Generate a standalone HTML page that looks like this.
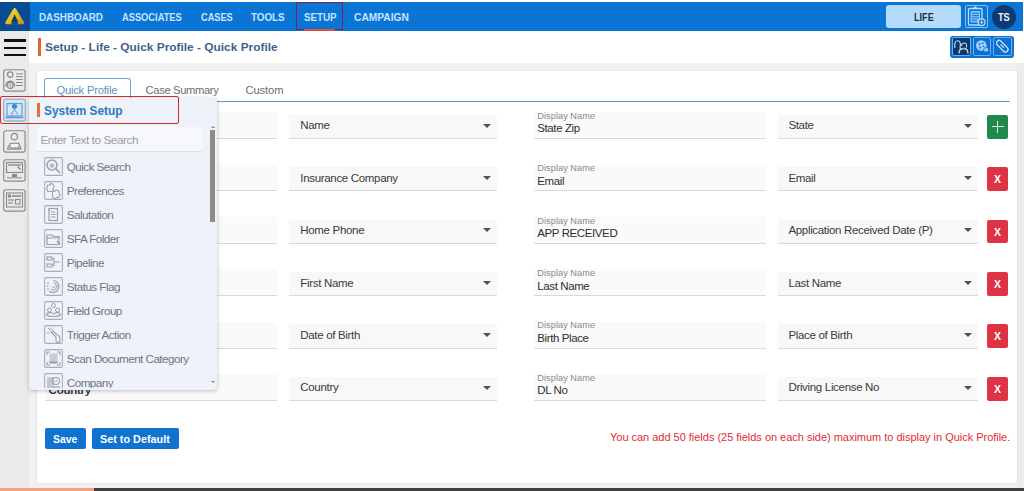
<!DOCTYPE html>
<html><head><meta charset="utf-8">
<style>
*{box-sizing:border-box;margin:0;padding:0}
html,body{width:1024px;height:491px;overflow:hidden;background:#fff;font-family:"Liberation Sans",sans-serif}
.a{position:absolute}
.t{position:absolute;white-space:nowrap;line-height:1}
</style></head><body>
<div class="a" style="left:29px;top:31px;width:995px;height:457px;background:#f1f1f1"></div>
<div class="a" style="left:29px;top:31px;width:995px;height:32px;background:#fff"></div>
<div class="a" style="left:1017px;top:63px;width:7px;height:425px;background:#ececec"></div>
<div class="a" style="left:37px;top:70.5px;width:979.8px;height:412.7px;background:#fff;border-radius:3px;box-shadow:0 0 1.5px rgba(0,0,0,.18)"></div>
<div class="a" style="left:0px;top:31px;width:29px;height:457px;background:#eaeaea"></div>
<div class="a" style="left:0px;top:487.5px;width:94px;height:3.5px;background:#f3a183"></div>
<div class="a" style="left:94px;top:487.5px;width:930px;height:3.5px;background:#404040"></div>
<div class="a" style="left:0px;top:1.8px;width:1023px;height:29.2px;background:#0b75d6"></div>
<div class="a" style="left:0px;top:1.8px;width:30px;height:29.2px;background:#0a4c92"></div>
<svg class="a" style="left:0px;top:0px;" width="30" height="32" viewBox="0 0 30 32"><defs><linearGradient id="lg" x1="0" y1="0" x2="1" y2="1"><stop offset="0" stop-color="#f4d63c"/><stop offset="0.55" stop-color="#e4bb1e"/><stop offset="1" stop-color="#cf8c1c"/></linearGradient></defs><path d="M14.7 9.6 L22.6 22.8 L6.8 22.8 Z" fill="url(#lg)" stroke="url(#lg)" stroke-width="3" stroke-linejoin="round"/><path d="M14.6 14.2 L18.3 22.4 L11.1 22.4 Z" fill="#0b3d6c"/><rect x="11.5" y="22.4" width="6.4" height="2.2" fill="#0a4c92"/></svg>
<div class="t" style="left:39.199999999999996px;top:11.54px;font-size:10.7px;font-weight:700;color:#c4e4ff;transform:scaleX(0.921);transform-origin:0 0;">DASHBOARD</div>
<div class="t" style="left:122.2px;top:11.54px;font-size:10.7px;font-weight:700;color:#c4e4ff;transform:scaleX(0.87);transform-origin:0 0;">ASSOCIATES</div>
<div class="t" style="left:200.9px;top:11.54px;font-size:10.7px;font-weight:700;color:#c4e4ff;transform:scaleX(0.861);transform-origin:0 0;">CASES</div>
<div class="t" style="left:251.3px;top:11.54px;font-size:10.7px;font-weight:700;color:#c4e4ff;transform:scaleX(0.918);transform-origin:0 0;">TOOLS</div>
<div class="t" style="left:303.59999999999997px;top:11.54px;font-size:10.7px;font-weight:700;color:#c4e4ff;transform:scaleX(0.913);transform-origin:0 0;">SETUP</div>
<div class="t" style="left:354.4px;top:11.54px;font-size:10.7px;font-weight:700;color:#c4e4ff;transform:scaleX(0.956);transform-origin:0 0;">CAMPAIGN</div>
<div class="a" style="left:296.3px;top:2.2px;width:46.7px;height:28.2px;border:1.9px solid #7a2548"></div>
<div class="a" style="left:303.8px;top:29.2px;width:31.7px;height:1.8px;background:#e84a3c"></div>
<div class="a" style="left:886.2px;top:4.5px;width:74.9px;height:23.1px;background:#b4dbfa;border-radius:3px"></div>
<div class="t" style="left:913.8px;top:11.73px;font-size:10.6px;font-weight:700;color:#1e3146;transform:scaleX(0.86);transform-origin:0 0;">LIFE</div>
<div class="a" style="left:964.8px;top:5px;width:23.3px;height:23.1px;border:1.7px solid #7cc5ff;border-radius:2px"></div>
<svg class="a" style="left:964.8px;top:5px;" width="23.3" height="23.1" viewBox="0 0 23.3 23.1"><rect x="3.5" y="3.5" width="13.5" height="16.5" rx="1" fill="none" stroke="#b7defe" stroke-width="1.3"/><path d="M8 4 L10.2 1.8 L12.5 4" fill="none" stroke="#b7defe" stroke-width="1.1"/><rect x="5.6" y="6" width="9.4" height="11.5" fill="#7cc2fb"/><line x1="7" y1="8.3" x2="14" y2="8.3" stroke="#0f6ecb" stroke-width="0.9"/><line x1="7" y1="10.6" x2="14" y2="10.6" stroke="#0f6ecb" stroke-width="0.9"/><line x1="7" y1="12.9" x2="14" y2="12.9" stroke="#0f6ecb" stroke-width="0.9"/><line x1="7" y1="15.2" x2="12" y2="15.2" stroke="#0f6ecb" stroke-width="0.9"/><circle cx="16.6" cy="17.2" r="3.4" fill="#0f6ecb" stroke="#b7defe" stroke-width="1.2"/><line x1="16.6" y1="15.3" x2="16.6" y2="19.1" stroke="#b7defe" stroke-width="1"/><line x1="14.7" y1="17.2" x2="18.5" y2="17.2" stroke="#b7defe" stroke-width="1"/></svg>
<div class="a" style="left:991.7px;top:4.5px;width:24.6px;height:24.5px;background:#0b3b70;border-radius:50%"></div>
<div class="t" style="left:998.0px;top:11.74px;font-size:10.7px;font-weight:700;color:#eef5ff;transform:scaleX(0.86);transform-origin:0 0;">TS</div>
<div class="a" style="left:3.8px;top:39.25px;width:22.2px;height:2.3px;background:#111"></div>
<div class="a" style="left:3.8px;top:46.75px;width:22.2px;height:2.3px;background:#111"></div>
<div class="a" style="left:3.8px;top:53.550000000000004px;width:22.2px;height:2.3px;background:#111"></div>
<div class="a" style="left:38.2px;top:37.6px;width:2.4px;height:18.1px;background:#e5642f"></div>
<div class="t" style="left:45.0px;top:41.48px;font-size:11.6px;font-weight:700;color:#3d628c;transform:scaleX(1.026);transform-origin:0 0;">Setup - Life - Quick Profile - Quick Profile</div>
<div class="a" style="left:950.1px;top:35.5px;width:63.8px;height:22.3px;background:#1171cf;border-radius:3px"></div>
<div class="a" style="left:952.3px;top:37.3px;width:18.3px;height:18.3px;background:#0a3868;border:1.5px solid #5db3ff;border-radius:2px"></div>
<div class="a" style="left:972.8px;top:37.3px;width:18.4px;height:18.3px;background:#0f6ecb;border:1.5px solid #5db3ff;border-radius:2px"></div>
<div class="a" style="left:993.4px;top:37.3px;width:18.6px;height:18.3px;background:#0f6ecb;border:1.5px solid #5db3ff;border-radius:2px"></div>
<svg class="a" style="left:952.3px;top:37.3px;" width="18.3" height="18.3" viewBox="0 0 18.3 18.3"><path d="M3 11 C2 6 3.5 3.8 5.8 3.8 C8 3.8 9 6 8 11 L8.5 12" fill="none" stroke="#c8dcef" stroke-width="1.1"/><path d="M9.5 9 C9.5 6.8 11 6 12.3 6 C13.8 6 15 7.2 14.5 10.5" fill="none" stroke="#c8dcef" stroke-width="1.1"/><path d="M7 16.5 C7 12.5 9.8 11.5 11.5 11.5 C13.5 11.5 16 12.5 16 16.5" fill="none" stroke="#c8dcef" stroke-width="1.3"/><path d="M9 11 L11.5 12.5 L14 11" fill="#9fb3c8"/></svg>
<svg class="a" style="left:972.8px;top:37.3px;" width="18.4" height="18.3" viewBox="0 0 18.4 18.3"><circle cx="8.3" cy="8.5" r="5.3" fill="#9fd0fb"/><circle cx="6.5" cy="7" r="1" fill="#0f6ecb"/><circle cx="9.6" cy="6.2" r="0.9" fill="#0f6ecb"/><circle cx="7.2" cy="10.5" r="1" fill="#0f6ecb"/><circle cx="10.4" cy="9.4" r="0.8" fill="#0f6ecb"/><rect x="10.8" y="10.8" width="4.6" height="4" rx="1" fill="#9fd0fb" stroke="#0f6ecb" stroke-width="0.8"/></svg>
<svg class="a" style="left:993.4px;top:37.3px;" width="18.6" height="18.3" viewBox="0 0 18.6 18.3"><g transform="rotate(45 9.3 9.15)"><rect x="2.3" y="6.6" width="14" height="5.2" rx="2.6" fill="none" stroke="#b9dcfb" stroke-width="1.4"/><line x1="7" y1="9.2" x2="11.6" y2="9.2" stroke="#b9dcfb" stroke-width="1.3"/></g></svg>
<svg class="a" style="left:2.3px;top:68px;" width="25" height="25" viewBox="0 0 25 25"><rect x="1.7" y="1.7" width="21.4" height="21.4" rx="2.2" fill="none" stroke="#8a8a8a" stroke-width="1.15"/><circle cx="8.2" cy="6.6" r="2.7" fill="none" stroke="#8a8a8a" stroke-width="1.2"/><path d="M3.6 18.5 C3.6 11.3 12.8 11.3 12.8 18.5" fill="none" stroke="#8a8a8a" stroke-width="1.2"/><circle cx="8.2" cy="17.4" r="3" fill="#e8e8e8" stroke="#8a8a8a" stroke-width="1.2"/><circle cx="8.2" cy="17.4" r="1" fill="#8a8a8a"/><line x1="14" y1="5.9" x2="20.8" y2="5.9" stroke="#8a8a8a" stroke-width="1"/><line x1="14" y1="8.6" x2="20.8" y2="8.6" stroke="#8a8a8a" stroke-width="1"/><line x1="14" y1="11.5" x2="20.8" y2="11.5" stroke="#8a8a8a" stroke-width="1"/><line x1="14" y1="14.5" x2="20.8" y2="14.5" stroke="#8a8a8a" stroke-width="1"/><line x1="14" y1="17.5" x2="20.8" y2="17.5" stroke="#8a8a8a" stroke-width="1"/></svg>
<svg class="a" style="left:2.3px;top:97.5px;" width="25" height="25" viewBox="0 0 25 25"><rect x="1.7" y="1.2" width="21.6" height="21.8" rx="2" fill="#d3e8fa" stroke="#93b7d4" stroke-width="1.4"/><rect x="5" y="5.5" width="15" height="12.5" fill="none" stroke="#6f9cc6" stroke-width="1.2"/><circle cx="12.5" cy="8.3" r="2.6" fill="#3d8bd6"/><path d="M9 16.5 L12.5 11.5 L16 16.5" fill="none" stroke="#7fa9cf" stroke-width="1.2"/><rect x="3.5" y="18.5" width="18" height="1.8" fill="#6f9cc6"/><circle cx="6.5" cy="7" r="1" fill="#f0b0c8"/><circle cx="11" cy="16" r="0.9" fill="#f0a0b8"/></svg>
<svg class="a" style="left:2.3px;top:128.5px;" width="25" height="25" viewBox="0 0 25 25"><rect x="1.7" y="1.7" width="21.4" height="21.4" rx="2.2" fill="none" stroke="#8a8a8a" stroke-width="1.15"/><circle cx="12.3" cy="7.6" r="3.2" fill="none" stroke="#8a8a8a" stroke-width="1.2"/><path d="M5.8 19.5 C6.2 12.8 18.4 12.8 18.8 19.5" fill="none" stroke="#8a8a8a" stroke-width="1.2"/><rect x="8" y="14.3" width="9" height="4.6" fill="#f4f4f4" stroke="#8a8a8a" stroke-width="1"/><line x1="5" y1="20" x2="19.5" y2="20" stroke="#8a8a8a" stroke-width="1.3"/></svg>
<svg class="a" style="left:2.3px;top:158px;" width="25" height="25" viewBox="0 0 25 25"><rect x="1.7" y="1.7" width="21.4" height="21.4" rx="2.2" fill="none" stroke="#8a8a8a" stroke-width="1.15"/><rect x="4.5" y="4.5" width="16" height="10" fill="none" stroke="#8a8a8a" stroke-width="1.2"/><line x1="6" y1="7" x2="19" y2="7" stroke="#8a8a8a" stroke-width="1.4"/><path d="M15.5 8.5 L18.5 11.5" stroke="#8a8a8a" stroke-width="1.5"/><rect x="10" y="16" width="5" height="3" fill="#8a8a8a"/><line x1="5" y1="19.8" x2="20" y2="19.8" stroke="#8a8a8a" stroke-width="1"/></svg>
<svg class="a" style="left:2.3px;top:188px;" width="25" height="25" viewBox="0 0 25 25"><rect x="1.7" y="1.7" width="21.4" height="21.4" rx="2.2" fill="none" stroke="#8a8a8a" stroke-width="1.15"/><rect x="4.5" y="5" width="16" height="14" fill="none" stroke="#8a8a8a" stroke-width="1.1"/><rect x="6" y="6.5" width="3" height="3" fill="#8a8a8a"/><line x1="10" y1="8" x2="19" y2="8" stroke="#8a8a8a" stroke-width="1.6"/><line x1="6" y1="12" x2="12" y2="12" stroke="#8a8a8a" stroke-width="1.2"/><line x1="6" y1="15" x2="11" y2="15" stroke="#8a8a8a" stroke-width="1.2"/><rect x="13.5" y="11.5" width="4.5" height="4.5" fill="none" stroke="#8a8a8a" stroke-width="1.1"/></svg>
<div class="a" style="left:44.1px;top:101.1px;width:965.9px;height:1.0px;background:#619acb"></div>
<div class="a" style="left:44.1px;top:78.3px;width:86.5px;height:23.8px;background:#fff;border:1px solid #7da4c6;border-bottom:none;border-radius:3px 3px 0 0"></div>
<div class="t" style="left:56.4px;top:84.72px;font-size:11.2px;font-weight:400;color:#5f90c2;letter-spacing:-0.2px;">Quick Profile</div>
<div class="t" style="left:145.6px;top:84.62px;font-size:11.2px;font-weight:400;color:#6e6e6e;letter-spacing:-0.35px;">Case Summary</div>
<div class="t" style="left:245.5px;top:84.62px;font-size:11.2px;font-weight:400;color:#6e6e6e;letter-spacing:-0.1px;">Custom</div>
<div class="a" style="left:44.5px;top:112.19999999999999px;width:232.9px;height:26.0px;background:#fafafa"></div>
<div class="a" style="left:44.5px;top:137.89999999999998px;width:232.9px;height:1.2px;background:#d9d9d9"></div>
<div class="t" style="left:48.6px;top:111.81px;font-size:9.2px;font-weight:400;color:#8a8a8a;letter-spacing:0.05px;">Display Name</div>
<div class="t" style="left:48.6px;top:123.37px;font-size:11.5px;font-weight:700;color:#3a3a3a;letter-spacing:-0.25px;">Name</div>
<div class="a" style="left:289px;top:114.69999999999999px;width:208px;height:23.5px;background:#f8f8f8"></div>
<div class="a" style="left:289px;top:137.89999999999998px;width:208px;height:1.2px;background:#d9d9d9"></div>
<div class="t" style="left:300.3px;top:120.37px;font-size:11.5px;font-weight:400;color:#3a3a3a;letter-spacing:-0.32px;">Name</div>
<div class="a" style="left:482.8px;top:123.6px;width:0;height:0;border-left:4.2px solid transparent;border-right:4.2px solid transparent;border-top:4.3px solid #3c5668"></div>
<div class="a" style="left:533.7px;top:112.19999999999999px;width:232.6px;height:26.0px;background:#fafafa"></div>
<div class="a" style="left:533.7px;top:137.89999999999998px;width:232.6px;height:1.2px;background:#d9d9d9"></div>
<div class="t" style="left:537.3px;top:111.81px;font-size:9.2px;font-weight:400;color:#8a8a8a;letter-spacing:0.05px;">Display Name</div>
<div class="t" style="left:537.3px;top:123.37px;font-size:11.5px;font-weight:400;color:#2e2e2e;letter-spacing:-0.4px;">State Zip</div>
<div class="a" style="left:777.5px;top:114.69999999999999px;width:200.3px;height:23.5px;background:#f8f8f8"></div>
<div class="a" style="left:777.5px;top:137.89999999999998px;width:200.3px;height:1.2px;background:#d9d9d9"></div>
<div class="t" style="left:788.4px;top:120.37px;font-size:11.5px;font-weight:400;color:#3a3a3a;letter-spacing:-0.32px;">State</div>
<div class="a" style="left:963.7px;top:123.6px;width:0;height:0;border-left:4.2px solid transparent;border-right:4.2px solid transparent;border-top:4.3px solid #3c5668"></div>
<div class="a" style="left:987.3px;top:114.79999999999998px;width:20.9px;height:23.9px;background:#1f8a4c;border-radius:2px"></div>
<div class="a" style="left:997.3px;top:120.69999999999999px;width:0.9px;height:12.0px;background:#d8efe0"></div>
<div class="a" style="left:991.8px;top:126.29999999999998px;width:12.0px;height:0.9px;background:#d8efe0"></div>
<div class="a" style="left:44.5px;top:164.6px;width:232.9px;height:26.0px;background:#fafafa"></div>
<div class="a" style="left:44.5px;top:190.29999999999998px;width:232.9px;height:1.2px;background:#d9d9d9"></div>
<div class="t" style="left:48.6px;top:164.21px;font-size:9.2px;font-weight:400;color:#8a8a8a;letter-spacing:0.05px;">Display Name</div>
<div class="t" style="left:48.6px;top:175.77px;font-size:11.5px;font-weight:700;color:#3a3a3a;letter-spacing:-0.25px;">Insurance Company</div>
<div class="a" style="left:289px;top:167.1px;width:208px;height:23.5px;background:#f8f8f8"></div>
<div class="a" style="left:289px;top:190.29999999999998px;width:208px;height:1.2px;background:#d9d9d9"></div>
<div class="t" style="left:300.3px;top:172.77px;font-size:11.5px;font-weight:400;color:#3a3a3a;letter-spacing:-0.32px;">Insurance Company</div>
<div class="a" style="left:482.8px;top:176.0px;width:0;height:0;border-left:4.2px solid transparent;border-right:4.2px solid transparent;border-top:4.3px solid #3c5668"></div>
<div class="a" style="left:533.7px;top:164.6px;width:232.6px;height:26.0px;background:#fafafa"></div>
<div class="a" style="left:533.7px;top:190.29999999999998px;width:232.6px;height:1.2px;background:#d9d9d9"></div>
<div class="t" style="left:537.3px;top:164.21px;font-size:9.2px;font-weight:400;color:#8a8a8a;letter-spacing:0.05px;">Display Name</div>
<div class="t" style="left:537.3px;top:175.77px;font-size:11.5px;font-weight:400;color:#2e2e2e;letter-spacing:-0.4px;">Email</div>
<div class="a" style="left:777.5px;top:167.1px;width:200.3px;height:23.5px;background:#f8f8f8"></div>
<div class="a" style="left:777.5px;top:190.29999999999998px;width:200.3px;height:1.2px;background:#d9d9d9"></div>
<div class="t" style="left:788.4px;top:172.77px;font-size:11.5px;font-weight:400;color:#3a3a3a;letter-spacing:-0.32px;">Email</div>
<div class="a" style="left:963.7px;top:176.0px;width:0;height:0;border-left:4.2px solid transparent;border-right:4.2px solid transparent;border-top:4.3px solid #3c5668"></div>
<div class="a" style="left:987.3px;top:167.2px;width:20.9px;height:23.9px;background:#de3344;border-radius:2px"></div>
<div class="t" style="left:993.5px;top:174.29px;font-size:11px;font-weight:700;color:#fff;transform:scaleX(0.95);transform-origin:0 0;">X</div>
<div class="a" style="left:44.5px;top:217.0px;width:232.9px;height:26.0px;background:#fafafa"></div>
<div class="a" style="left:44.5px;top:242.7px;width:232.9px;height:1.2px;background:#d9d9d9"></div>
<div class="t" style="left:48.6px;top:216.61px;font-size:9.2px;font-weight:400;color:#8a8a8a;letter-spacing:0.05px;">Display Name</div>
<div class="t" style="left:48.6px;top:228.17px;font-size:11.5px;font-weight:700;color:#3a3a3a;letter-spacing:-0.25px;">Home Phone</div>
<div class="a" style="left:289px;top:219.5px;width:208px;height:23.5px;background:#f8f8f8"></div>
<div class="a" style="left:289px;top:242.7px;width:208px;height:1.2px;background:#d9d9d9"></div>
<div class="t" style="left:300.3px;top:225.17px;font-size:11.5px;font-weight:400;color:#3a3a3a;letter-spacing:-0.32px;">Home Phone</div>
<div class="a" style="left:482.8px;top:228.4px;width:0;height:0;border-left:4.2px solid transparent;border-right:4.2px solid transparent;border-top:4.3px solid #3c5668"></div>
<div class="a" style="left:533.7px;top:217.0px;width:232.6px;height:26.0px;background:#fafafa"></div>
<div class="a" style="left:533.7px;top:242.7px;width:232.6px;height:1.2px;background:#d9d9d9"></div>
<div class="t" style="left:537.3px;top:216.61px;font-size:9.2px;font-weight:400;color:#8a8a8a;letter-spacing:0.05px;">Display Name</div>
<div class="t" style="left:537.3px;top:228.17px;font-size:11.5px;font-weight:400;color:#2e2e2e;letter-spacing:-0.4px;">APP RECEIVED</div>
<div class="a" style="left:777.5px;top:219.5px;width:200.3px;height:23.5px;background:#f8f8f8"></div>
<div class="a" style="left:777.5px;top:242.7px;width:200.3px;height:1.2px;background:#d9d9d9"></div>
<div class="t" style="left:788.4px;top:225.17px;font-size:11.5px;font-weight:400;color:#3a3a3a;letter-spacing:-0.32px;">Application Received Date (P)</div>
<div class="a" style="left:963.7px;top:228.4px;width:0;height:0;border-left:4.2px solid transparent;border-right:4.2px solid transparent;border-top:4.3px solid #3c5668"></div>
<div class="a" style="left:987.3px;top:219.6px;width:20.9px;height:23.9px;background:#de3344;border-radius:2px"></div>
<div class="t" style="left:993.5px;top:226.69px;font-size:11px;font-weight:700;color:#fff;transform:scaleX(0.95);transform-origin:0 0;">X</div>
<div class="a" style="left:44.5px;top:269.4px;width:232.9px;height:26.0px;background:#fafafa"></div>
<div class="a" style="left:44.5px;top:295.09999999999997px;width:232.9px;height:1.2px;background:#d9d9d9"></div>
<div class="t" style="left:48.6px;top:269.01px;font-size:9.2px;font-weight:400;color:#8a8a8a;letter-spacing:0.05px;">Display Name</div>
<div class="t" style="left:48.6px;top:280.57px;font-size:11.5px;font-weight:700;color:#3a3a3a;letter-spacing:-0.25px;">First Name</div>
<div class="a" style="left:289px;top:271.9px;width:208px;height:23.5px;background:#f8f8f8"></div>
<div class="a" style="left:289px;top:295.09999999999997px;width:208px;height:1.2px;background:#d9d9d9"></div>
<div class="t" style="left:300.3px;top:277.57px;font-size:11.5px;font-weight:400;color:#3a3a3a;letter-spacing:-0.32px;">First Name</div>
<div class="a" style="left:482.8px;top:280.8px;width:0;height:0;border-left:4.2px solid transparent;border-right:4.2px solid transparent;border-top:4.3px solid #3c5668"></div>
<div class="a" style="left:533.7px;top:269.4px;width:232.6px;height:26.0px;background:#fafafa"></div>
<div class="a" style="left:533.7px;top:295.09999999999997px;width:232.6px;height:1.2px;background:#d9d9d9"></div>
<div class="t" style="left:537.3px;top:269.01px;font-size:9.2px;font-weight:400;color:#8a8a8a;letter-spacing:0.05px;">Display Name</div>
<div class="t" style="left:537.3px;top:280.57px;font-size:11.5px;font-weight:400;color:#2e2e2e;letter-spacing:-0.4px;">Last Name</div>
<div class="a" style="left:777.5px;top:271.9px;width:200.3px;height:23.5px;background:#f8f8f8"></div>
<div class="a" style="left:777.5px;top:295.09999999999997px;width:200.3px;height:1.2px;background:#d9d9d9"></div>
<div class="t" style="left:788.4px;top:277.57px;font-size:11.5px;font-weight:400;color:#3a3a3a;letter-spacing:-0.32px;">Last Name</div>
<div class="a" style="left:963.7px;top:280.8px;width:0;height:0;border-left:4.2px solid transparent;border-right:4.2px solid transparent;border-top:4.3px solid #3c5668"></div>
<div class="a" style="left:987.3px;top:272.0px;width:20.9px;height:23.9px;background:#de3344;border-radius:2px"></div>
<div class="t" style="left:993.5px;top:279.09px;font-size:11px;font-weight:700;color:#fff;transform:scaleX(0.95);transform-origin:0 0;">X</div>
<div class="a" style="left:44.5px;top:321.8px;width:232.9px;height:26.0px;background:#fafafa"></div>
<div class="a" style="left:44.5px;top:347.5px;width:232.9px;height:1.2px;background:#d9d9d9"></div>
<div class="t" style="left:48.6px;top:321.41px;font-size:9.2px;font-weight:400;color:#8a8a8a;letter-spacing:0.05px;">Display Name</div>
<div class="t" style="left:48.6px;top:332.97px;font-size:11.5px;font-weight:700;color:#3a3a3a;letter-spacing:-0.25px;">Date of Birth</div>
<div class="a" style="left:289px;top:324.3px;width:208px;height:23.5px;background:#f8f8f8"></div>
<div class="a" style="left:289px;top:347.5px;width:208px;height:1.2px;background:#d9d9d9"></div>
<div class="t" style="left:300.3px;top:329.97px;font-size:11.5px;font-weight:400;color:#3a3a3a;letter-spacing:-0.32px;">Date of Birth</div>
<div class="a" style="left:482.8px;top:333.2px;width:0;height:0;border-left:4.2px solid transparent;border-right:4.2px solid transparent;border-top:4.3px solid #3c5668"></div>
<div class="a" style="left:533.7px;top:321.8px;width:232.6px;height:26.0px;background:#fafafa"></div>
<div class="a" style="left:533.7px;top:347.5px;width:232.6px;height:1.2px;background:#d9d9d9"></div>
<div class="t" style="left:537.3px;top:321.41px;font-size:9.2px;font-weight:400;color:#8a8a8a;letter-spacing:0.05px;">Display Name</div>
<div class="t" style="left:537.3px;top:332.97px;font-size:11.5px;font-weight:400;color:#2e2e2e;letter-spacing:-0.4px;">Birth Place</div>
<div class="a" style="left:777.5px;top:324.3px;width:200.3px;height:23.5px;background:#f8f8f8"></div>
<div class="a" style="left:777.5px;top:347.5px;width:200.3px;height:1.2px;background:#d9d9d9"></div>
<div class="t" style="left:788.4px;top:329.97px;font-size:11.5px;font-weight:400;color:#3a3a3a;letter-spacing:-0.32px;">Place of Birth</div>
<div class="a" style="left:963.7px;top:333.2px;width:0;height:0;border-left:4.2px solid transparent;border-right:4.2px solid transparent;border-top:4.3px solid #3c5668"></div>
<div class="a" style="left:987.3px;top:324.40000000000003px;width:20.9px;height:23.9px;background:#de3344;border-radius:2px"></div>
<div class="t" style="left:993.5px;top:331.49px;font-size:11px;font-weight:700;color:#fff;transform:scaleX(0.95);transform-origin:0 0;">X</div>
<div class="a" style="left:44.5px;top:374.2px;width:232.9px;height:26.0px;background:#fafafa"></div>
<div class="a" style="left:44.5px;top:399.9px;width:232.9px;height:1.2px;background:#d9d9d9"></div>
<div class="t" style="left:48.6px;top:373.81px;font-size:9.2px;font-weight:400;color:#8a8a8a;letter-spacing:0.05px;">Display Name</div>
<div class="t" style="left:48.6px;top:385.37px;font-size:11.5px;font-weight:700;color:#3a3a3a;letter-spacing:-0.25px;">Country</div>
<div class="a" style="left:289px;top:376.7px;width:208px;height:23.5px;background:#f8f8f8"></div>
<div class="a" style="left:289px;top:399.9px;width:208px;height:1.2px;background:#d9d9d9"></div>
<div class="t" style="left:300.3px;top:382.37px;font-size:11.5px;font-weight:400;color:#3a3a3a;letter-spacing:-0.32px;">Country</div>
<div class="a" style="left:482.8px;top:385.6px;width:0;height:0;border-left:4.2px solid transparent;border-right:4.2px solid transparent;border-top:4.3px solid #3c5668"></div>
<div class="a" style="left:533.7px;top:374.2px;width:232.6px;height:26.0px;background:#fafafa"></div>
<div class="a" style="left:533.7px;top:399.9px;width:232.6px;height:1.2px;background:#d9d9d9"></div>
<div class="t" style="left:537.3px;top:373.81px;font-size:9.2px;font-weight:400;color:#8a8a8a;letter-spacing:0.05px;">Display Name</div>
<div class="t" style="left:537.3px;top:385.37px;font-size:11.5px;font-weight:400;color:#2e2e2e;letter-spacing:-0.4px;">DL No</div>
<div class="a" style="left:777.5px;top:376.7px;width:200.3px;height:23.5px;background:#f8f8f8"></div>
<div class="a" style="left:777.5px;top:399.9px;width:200.3px;height:1.2px;background:#d9d9d9"></div>
<div class="t" style="left:788.4px;top:382.37px;font-size:11.5px;font-weight:400;color:#3a3a3a;letter-spacing:-0.32px;">Driving License No</div>
<div class="a" style="left:963.7px;top:385.6px;width:0;height:0;border-left:4.2px solid transparent;border-right:4.2px solid transparent;border-top:4.3px solid #3c5668"></div>
<div class="a" style="left:987.3px;top:376.8px;width:20.9px;height:23.9px;background:#de3344;border-radius:2px"></div>
<div class="t" style="left:993.5px;top:383.89px;font-size:11px;font-weight:700;color:#fff;transform:scaleX(0.95);transform-origin:0 0;">X</div>
<div class="a" style="left:44.9px;top:428.2px;width:41.0px;height:20.7px;background:#0f73cf;border-radius:2px"></div>
<div class="t" style="left:53.4px;top:433.71px;font-size:10.5px;font-weight:700;color:#fff;transform:scaleX(0.996);transform-origin:0 0;">Save</div>
<div class="a" style="left:91.8px;top:428.2px;width:86.9px;height:20.7px;background:#0f73cf;border-radius:2px"></div>
<div class="t" style="left:100.2px;top:433.71px;font-size:10.5px;font-weight:700;color:#fff;transform:scaleX(1.031);transform-origin:0 0;">Set to Default</div>
<div class="t" style="left:610.0px;top:432.19px;font-size:11px;font-weight:400;color:#e02a33;letter-spacing:-0.02px;">You can add 50 fields (25 fields on each side) maximum to display in Quick Profile.</div>
<div class="a" style="left:29px;top:98px;width:188.2px;height:291.7px;background:#eef2f9;border-radius:4px;box-shadow:0 1px 4px rgba(0,0,0,.25)"></div>
<div class="a" style="left:36.6px;top:103px;width:3.2px;height:14.3px;background:#ec6f39"></div>
<div class="t" style="left:44.4px;top:105.12px;font-size:12.5px;font-weight:700;color:#2f78c0;transform:scaleX(0.95);transform-origin:0 0;">System Setup</div>
<div class="a" style="left:37.1px;top:126.7px;width:164.7px;height:24.3px;background:#f6f8fc"></div>
<div class="a" style="left:37.1px;top:150.5px;width:164.7px;height:1.0px;background:#dde2ea"></div>
<div class="t" style="left:40.4px;top:135.31px;font-size:11.8px;font-weight:400;color:#9a9da3;letter-spacing:-0.45px;">Enter Text to Search</div>
<div class="a" style="left:29px;top:152px;width:180px;height:235.5px;overflow:hidden">
<svg class="a" style="left:15px;top:5px" width="19" height="19" viewBox="0 0 19 19"><rect x="0.6" y="0.6" width="17.8" height="17.8" rx="1.5" fill="none" stroke="#a9aeb5" stroke-width="1.1"/><circle cx="8" cy="8" r="5" fill="none" stroke="#9aa0a8" stroke-width="1.5"/><path d="M11.6 11.6 L16 16" stroke="#9aa0a8" stroke-width="1.6"/><circle cx="8" cy="8.6" r="2.4" fill="#9aa0a8" opacity=".6"/></svg>
<div class="t" style="left:37.8px;top:9.0px;font-size:11.7px;color:#6f7680;letter-spacing:-0.55px">Quick Search</div>
<svg class="a" style="left:15px;top:29px" width="19" height="19" viewBox="0 0 19 19"><rect x="0.6" y="0.6" width="17.8" height="17.8" rx="1.5" fill="none" stroke="#a9aeb5" stroke-width="1.1"/><path d="M3.5 4 h3 v-1.5 h2 v1.5 h1.5 v3 h-1 v2 h1 v1.5 h-6.5 v-2 h-1 v-2 h1 z" fill="none" stroke="#9aa0a8" stroke-width="1"/><path d="M8.5 10 h3 v-1 h2 v1 h1.5 v3 h1 v2 h-1 v1.5 h-3 v1 h-2 v-1 h-1.5 z" fill="none" stroke="#9aa0a8" stroke-width="1"/></svg>
<div class="t" style="left:37.8px;top:33.0px;font-size:11.7px;color:#6f7680;letter-spacing:-0.55px">Preferences</div>
<svg class="a" style="left:15px;top:53px" width="19" height="19" viewBox="0 0 19 19"><rect x="0.6" y="0.6" width="17.8" height="17.8" rx="1.5" fill="none" stroke="#a9aeb5" stroke-width="1.1"/><rect x="5" y="3.5" width="8.5" height="12" fill="none" stroke="#9aa0a8" stroke-width="1.2"/><path d="M4 5 h2 M7 7 h4.5 M7 9.5 h4.5 M7 12 h4.5" stroke="#9aa0a8" stroke-width="1.1"/></svg>
<div class="t" style="left:37.8px;top:57.0px;font-size:11.7px;color:#6f7680;letter-spacing:-0.55px">Salutation</div>
<svg class="a" style="left:15px;top:77px" width="19" height="19" viewBox="0 0 19 19"><rect x="0.6" y="0.6" width="17.8" height="17.8" rx="1.5" fill="none" stroke="#a9aeb5" stroke-width="1.1"/><path d="M3 6 h5 l1.5 1.5 h5.5 v8 h-12 z" fill="none" stroke="#9aa0a8" stroke-width="1.2"/><path d="M3 9 h12" stroke="#9aa0a8" stroke-width="1"/><path d="M13 12 l3 3.5" stroke="#9aa0a8" stroke-width="1.4"/></svg>
<div class="t" style="left:37.8px;top:81.0px;font-size:11.7px;color:#6f7680;letter-spacing:-0.55px">SFA Folder</div>
<svg class="a" style="left:15px;top:101px" width="19" height="19" viewBox="0 0 19 19"><rect x="0.6" y="0.6" width="17.8" height="17.8" rx="1.5" fill="none" stroke="#a9aeb5" stroke-width="1.1"/><rect x="3" y="4" width="5" height="3" fill="none" stroke="#9aa0a8" stroke-width="1.1"/><rect x="3" y="11" width="5" height="3" fill="none" stroke="#9aa0a8" stroke-width="1.1"/><path d="M8 5.5 h2 v7 h-2 M10 9 h5.5" fill="none" stroke="#9aa0a8" stroke-width="1.1"/></svg>
<div class="t" style="left:37.8px;top:105.0px;font-size:11.7px;color:#6f7680;letter-spacing:-0.55px">Pipeline</div>
<svg class="a" style="left:15px;top:125px" width="19" height="19" viewBox="0 0 19 19"><rect x="0.6" y="0.6" width="17.8" height="17.8" rx="1.5" fill="none" stroke="#a9aeb5" stroke-width="1.1"/><path d="M9.5 3.5 A6 6 0 1 1 5 14" fill="none" stroke="#9aa0a8" stroke-width="1.2"/><path d="M9.5 6 A3.5 3.5 0 1 1 7 12" fill="none" stroke="#9aa0a8" stroke-width="1"/><path d="M3 6 h2 M2.5 9 h2 M3 12 h2" stroke="#9aa0a8" stroke-width="1"/><path d="M8 9.5 l1.5 1.5 l3 -3" fill="none" stroke="#9aa0a8" stroke-width="1"/></svg>
<div class="t" style="left:37.8px;top:129.0px;font-size:11.7px;color:#6f7680;letter-spacing:-0.55px">Status Flag</div>
<svg class="a" style="left:15px;top:149px" width="19" height="19" viewBox="0 0 19 19"><rect x="0.6" y="0.6" width="17.8" height="17.8" rx="1.5" fill="none" stroke="#a9aeb5" stroke-width="1.1"/><circle cx="9.5" cy="4.5" r="2" fill="none" stroke="#9aa0a8" stroke-width="1"/><circle cx="5.5" cy="9" r="2" fill="none" stroke="#9aa0a8" stroke-width="1"/><circle cx="13.5" cy="9" r="2" fill="none" stroke="#9aa0a8" stroke-width="1"/><path d="M2.5 14 C3 11 8 11 9.5 13 C11 11 16 11 16.5 14 C14 16 5 16 2.5 14 z" fill="none" stroke="#9aa0a8" stroke-width="1.1"/></svg>
<div class="t" style="left:37.8px;top:153.0px;font-size:11.7px;color:#6f7680;letter-spacing:-0.55px">Field Group</div>
<svg class="a" style="left:15px;top:173px" width="19" height="19" viewBox="0 0 19 19"><rect x="0.6" y="0.6" width="17.8" height="17.8" rx="1.5" fill="none" stroke="#a9aeb5" stroke-width="1.1"/><path d="M4 3 l2 2 M3 8 h2.5 M6.5 2.5 v2 M9 3.5 l-1.5 1.5" stroke="#9aa0a8" stroke-width="1"/><path d="M7 7 l5 5 v3.5 a2 2 0 0 0 4 0 v-2.5 c0 -2 -2 -3 -3.5 -3.5 l-3.5 -3.5 z" fill="none" stroke="#9aa0a8" stroke-width="1.1"/></svg>
<div class="t" style="left:37.8px;top:177.0px;font-size:11.7px;color:#6f7680;letter-spacing:-0.55px">Trigger Action</div>
<svg class="a" style="left:15px;top:197px" width="19" height="19" viewBox="0 0 19 19"><rect x="0.6" y="0.6" width="17.8" height="17.8" rx="1.5" fill="none" stroke="#a9aeb5" stroke-width="1.1"/><path d="M3 6 v-3 h3 M13 3 h3 v3 M16 13 v3 h-3 M6 16 h-3 v-3" fill="none" stroke="#9aa0a8" stroke-width="1.1"/><rect x="5.5" y="4.5" width="8" height="10" fill="#9aa0a8" opacity=".45"/><rect x="5.5" y="12.5" width="8" height="2" fill="#9aa0a8"/></svg>
<div class="t" style="left:37.8px;top:201.0px;font-size:11.7px;color:#6f7680;letter-spacing:-0.55px">Scan Document Category</div>
<svg class="a" style="left:15px;top:221px" width="19" height="19" viewBox="0 0 19 19"><rect x="0.6" y="0.6" width="17.8" height="17.8" rx="1.5" fill="none" stroke="#a9aeb5" stroke-width="1.1"/><rect x="3" y="4" width="7" height="12" fill="#9aa0a8" opacity=".5"/><circle cx="12" cy="8" r="3.5" fill="none" stroke="#9aa0a8" stroke-width="1.1"/><path d="M10.5 8 l1 1 l2 -2" fill="none" stroke="#9aa0a8" stroke-width="1"/><path d="M9 14 h7" stroke="#9aa0a8" stroke-width="1.2"/></svg>
<div class="t" style="left:37.8px;top:225.0px;font-size:11.7px;color:#6f7680;letter-spacing:-0.55px">Company</div>
</div>
<div class="a" style="left:210.2px;top:130.3px;width:5.1px;height:91.7px;background:#8b8b8b"></div>
<div class="a" style="left:210.5px;top:125.5px;width:0;height:0;border-left:2.3px solid transparent;border-right:2.3px solid transparent;border-bottom:2.5px solid #888"></div>
<div class="a" style="left:210.5px;top:381px;width:0;height:0;border-left:2.3px solid transparent;border-right:2.3px solid transparent;border-top:2.5px solid #888"></div>
<div class="a" style="left:0px;top:96.3px;width:178.5px;height:28.0px;border:1.8px solid #d22a2e;border-radius:2px"></div>
</body></html>
